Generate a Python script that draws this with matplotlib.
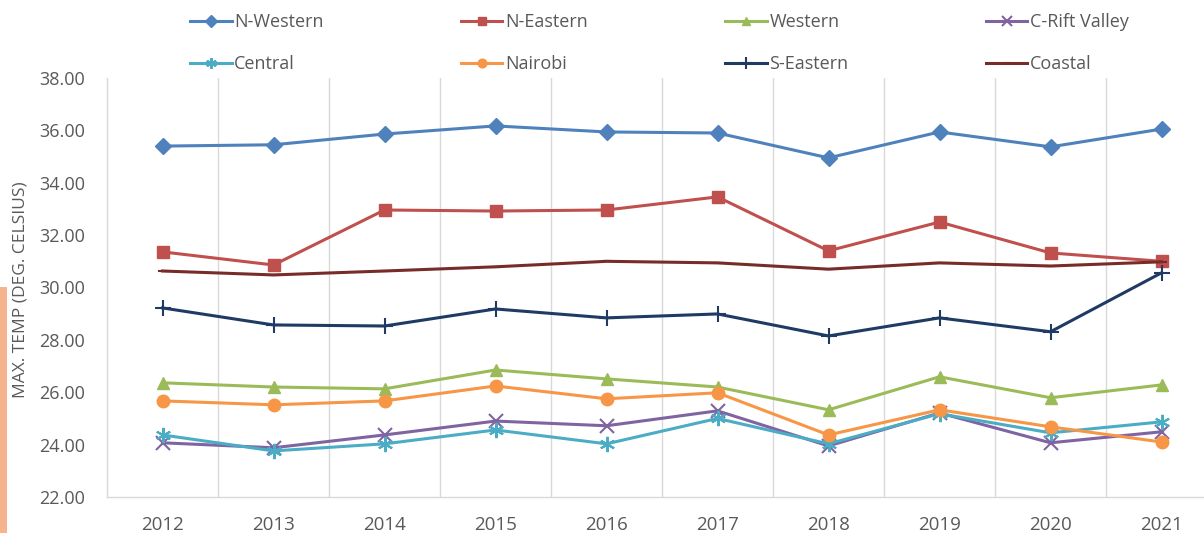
import matplotlib
matplotlib.use("Agg")
import matplotlib.pyplot as plt
from matplotlib.patches import Rectangle
from matplotlib.ticker import FormatStrFormatter, MultipleLocator, FixedLocator

years = ["2012", "2013", "2014", "2015", "2016", "2017", "2018", "2019", "2020", "2021"]

n_western = [35.40, 35.45, 35.86, 36.17, 35.94, 35.90, 34.95, 35.94, 35.37, 36.05]
n_eastern = [31.36, 30.86, 32.96, 32.92, 32.96, 33.46, 31.40, 32.50, 31.32, 31.00]
western = [26.36, 26.20, 26.13, 26.85, 26.51, 26.20, 25.33, 26.59, 25.79, 26.28]
c_rift = [24.07, 23.88, 24.37, 24.90, 24.72, 25.29, 23.95, 25.21, 24.07, 24.49]
central = [24.37, 23.76, 24.03, 24.56, 24.03, 25.00, 24.03, 25.18, 24.45, 24.87]
nairobi = [25.67, 25.52, 25.67, 26.24, 25.75, 25.98, 24.37, 25.33, 24.68, 24.10]
s_eastern = [29.22, 28.57, 28.53, 29.18, 28.84, 28.99, 28.15, 28.84, 28.31, 30.56]
coastal = [30.63, 30.48, 30.63, 30.79, 31.00, 30.94, 30.70, 30.94, 30.82, 30.98]

series = [
    ("N-Western", n_western, "#4F81BD", "D", 8.5),
    ("N-Eastern", n_eastern, "#C0504D", "s", 8.5),
    ("Western", western, "#9BBB59", "^", 9),
    ("C-Rift Valley", c_rift, "#8064A2", "x", 10),
    ("Central", central, "#4BACC6", (6, 2, 0), 11),
    ("Nairobi", nairobi, "#F79646", "o", 9),
    ("S-Eastern", s_eastern, "#1F3B64", "+", 12),
    ("Coastal", coastal, "#772C2A", "_", 7),
]

plt.rcParams['font.family'] = ['Open Sans', 'DejaVu Sans']
txt = "#595959"

fig = plt.figure(figsize=(12.04, 5.33), dpi=100)
ax = fig.add_axes([107/1204, 1 - 497/533, 1110/1204, 419/533])

x = list(range(len(years)))
handles = []
for name, vals, col, mk, ms in series:
    mew = 1.5 if mk in ("x", "+", "_") or isinstance(mk, tuple) else 1
    h, = ax.plot(x, vals, color=col, lw=2.2, marker=mk, markersize=ms,
                 markerfacecolor=col, markeredgecolor=col, markeredgewidth=mew,
                 label=name)
    handles.append(h)

ax.set_ylim(22, 38)
ax.set_xlim(-0.5, len(years) - 0.5)
ax.yaxis.set_major_locator(MultipleLocator(2))
ax.yaxis.set_major_formatter(FormatStrFormatter("%.2f"))
ax.set_xticks(x)
ax.set_xticklabels(years)
ax.xaxis.set_minor_locator(FixedLocator([i + 0.5 for i in x[:-1]]))
ax.grid(which="minor", axis="x", color="#D9D9D9", lw=1)
ax.tick_params(axis="both", which="both", length=0, colors=txt)
ax.tick_params(axis="y", labelsize=13, pad=16)
ax.tick_params(axis="x", labelsize=13.5, pad=14)

for s in ["top", "right"]:
    ax.spines[s].set_visible(False)
for s in ["left", "bottom"]:
    ax.spines[s].set_color("#D9D9D9")
    ax.spines[s].set_linewidth(1)

fig.text(21/1204, 1 - 290/533, "MAX. TEMP (DEG. CELSIUS)", rotation=90,
         ha="center", va="center", fontsize=12.5, color=txt)

fig.patches.append(Rectangle((0, 0), 7/1204, 1 - 287/533, transform=fig.transFigure,
                             facecolor="#F5B48C", edgecolor="none", zorder=0))

# legend filled row by row (4 columns, 2 rows)
order = [0, 4, 1, 5, 2, 6, 3, 7]
fig.legend(handles=[handles[i] for i in order], loc="upper left",
           bbox_to_anchor=(190/1204, 1 - 13/533),
           ncol=4, frameon=False, fontsize=13, labelcolor=txt, handlelength=2.3,
           handletextpad=0.15, columnspacing=7.6, labelspacing=1.35, borderpad=0,
           borderaxespad=0, markerscale=0.7)

fig.savefig("out.png", dpi=100)
